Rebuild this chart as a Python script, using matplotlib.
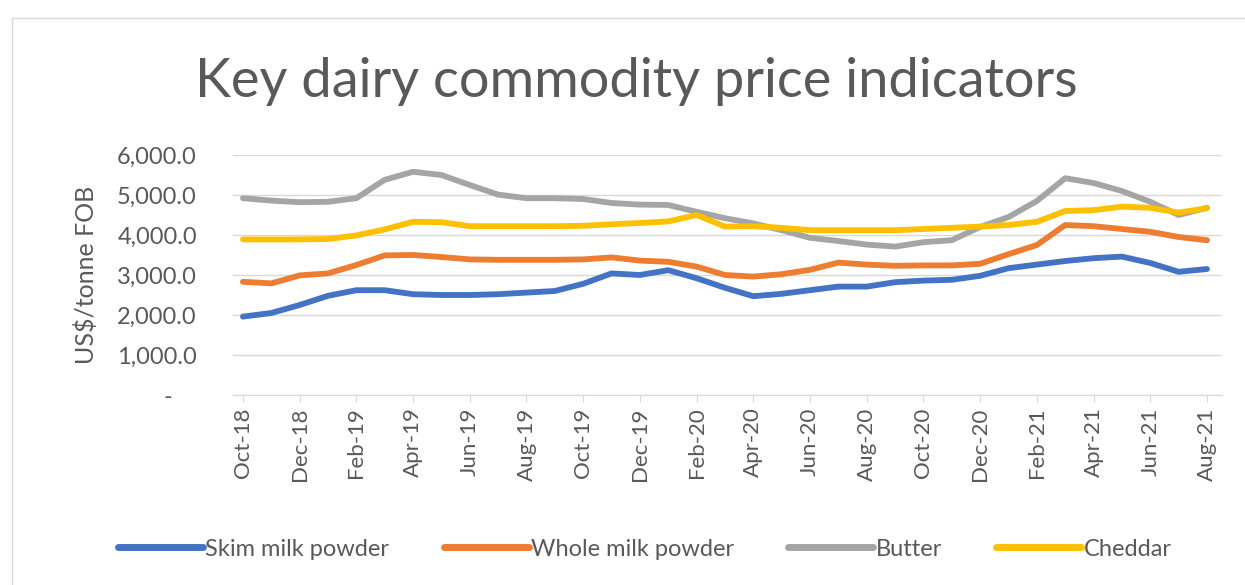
import matplotlib

matplotlib.use("Agg")
import matplotlib.pyplot as plt
from matplotlib.patches import Rectangle
from matplotlib.ticker import FuncFormatter, MultipleLocator

months = [
    "Oct-18", "Nov-18", "Dec-18", "Jan-19", "Feb-19", "Mar-19", "Apr-19", "May-19",
    "Jun-19", "Jul-19", "Aug-19", "Sep-19", "Oct-19", "Nov-19", "Dec-19", "Jan-20",
    "Feb-20", "Mar-20", "Apr-20", "May-20", "Jun-20", "Jul-20", "Aug-20", "Sep-20",
    "Oct-20", "Nov-20", "Dec-20", "Jan-21", "Feb-21", "Mar-21", "Apr-21", "May-21",
    "Jun-21", "Jul-21", "Aug-21",
]

skim_milk_powder = [
    1960, 2050, 2250, 2480, 2620, 2620, 2520, 2500, 2500, 2520, 2560, 2600,
    2780, 3040, 3000, 3120, 2920, 2680, 2470, 2530, 2620, 2710, 2710, 2820,
    2860, 2880, 2980, 3170, 3260, 3350, 3420, 3460, 3300, 3080, 3150,
]
whole_milk_powder = [
    2830, 2790, 2990, 3040, 3250, 3490, 3500, 3450, 3390, 3380, 3380, 3380,
    3390, 3440, 3360, 3330, 3210, 3000, 2960, 3020, 3130, 3310, 3260, 3230,
    3240, 3240, 3280, 3520, 3750, 4250, 4220, 4150, 4080, 3950, 3870,
]
butter = [
    4920, 4860, 4820, 4830, 4920, 5380, 5580, 5500, 5250, 5010, 4920, 4920,
    4900, 4800, 4760, 4750, 4580, 4420, 4290, 4120, 3930, 3850, 3760, 3710,
    3820, 3870, 4200, 4450, 4850, 5420, 5300, 5100, 4830, 4500, 4680,
]
cheddar = [
    3890, 3890, 3890, 3900, 3990, 4140, 4330, 4320, 4220, 4220, 4220, 4220,
    4230, 4270, 4300, 4340, 4500, 4210, 4220, 4180, 4120, 4120, 4120, 4120,
    4150, 4180, 4210, 4250, 4330, 4600, 4620, 4710, 4680, 4560, 4670,
]

series = [
    ("Skim milk powder", skim_milk_powder, "#4472C4"),
    ("Whole milk powder", whole_milk_powder, "#ED7D31"),
    ("Butter", butter, "#A5A5A5"),
    ("Cheddar", cheddar, "#FFC000"),
]

text_color = "#595959"
plt.rcParams["font.family"] = ["Lato", "DejaVu Sans"]

fig = plt.figure(figsize=(12.45, 5.85), dpi=100)
fig.patches.append(Rectangle((12 / 1245, -0.01), 1.0, 1 - 18 / 585 + 0.01,
                             transform=fig.transFigure, fill=False,
                             edgecolor="#D9D9D9", linewidth=1.0))

ax = fig.add_axes([233 / 1245, 1 - 395 / 585, (1222 - 233) / 1245, 240 / 585])
x = list(range(len(months)))
for name, values, color in series:
    ax.plot(x, values, color=color, linewidth=4.2, label=name,
            solid_joinstyle="round", solid_capstyle="round")

ax.set_xlim(-0.35, len(months) - 1 + 0.53)
ax.set_ylim(0, 6000)
ax.yaxis.set_major_locator(MultipleLocator(1000))
ax.yaxis.set_major_formatter(FuncFormatter(lambda v, _: "-    " if v == 0 else f"{v:,.1f}"))
ax.grid(axis="y", color="#D9D9D9", linewidth=1.0)
ax.set_axisbelow(True)

ax.set_xticks(x[::2])
ax.set_xticklabels(months[::2], rotation=90)

for side in ("top", "right", "left"):
    ax.spines[side].set_visible(False)
ax.spines["bottom"].set_color("#D9D9D9")
ax.tick_params(axis="y", length=0, pad=26, labelsize=17, labelcolor=text_color)
ax.tick_params(axis="x", length=5, color="#D9D9D9", pad=4, labelsize=16, labelcolor=text_color)

ax.set_ylabel("US$/tonne FOB", fontsize=18, color=text_color, labelpad=14)

fig.text(0.511, 1 - 82 / 585, "Key dairy commodity price indicators",
         ha="center", va="center", fontsize=39, color=text_color)

fig.legend(loc="center", bbox_to_anchor=(0.518, 1 - 549 / 585), ncol=4,
           frameon=False, fontsize=17, labelcolor=text_color,
           handlelength=3.6, handletextpad=0.1, columnspacing=2.3)
for line in fig.legends[0].get_lines():
    line.set_linewidth(5)

fig.savefig("out.png", dpi=100)
